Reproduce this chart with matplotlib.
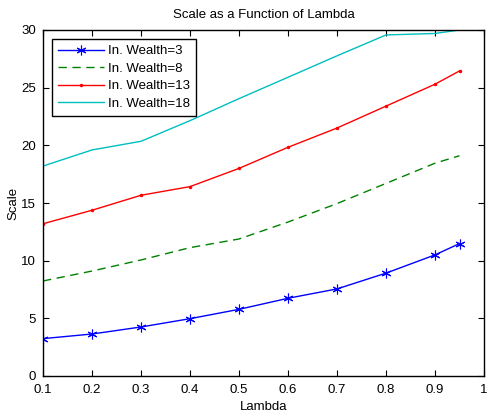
import matplotlib
matplotlib.use("Agg")
import matplotlib.pyplot as plt

plt.rcParams['font.family'] = ['Liberation Sans', 'DejaVu Sans']

lam = [0.1, 0.2, 0.3, 0.4, 0.5, 0.6, 0.7, 0.8, 0.9, 0.95]

wealth_3 = [3.24, 3.64, 4.25, 4.97, 5.78, 6.74, 7.55, 8.92, 10.5, 11.48]
wealth_8 = [8.24, 9.1, 10.06, 11.13, 11.88, 13.35, 14.95, 16.7, 18.45, 19.1]
wealth_13 = [13.2, 14.37, 15.67, 16.42, 18.0, 19.83, 21.5, 23.4, 25.3, 26.45]
wealth_18 = [18.2, 19.6, 20.35, 22.14, 24.05, 25.9, 27.76, 29.57, 29.7, 30.0]

labels = ['In. Wealth=3', 'In. Wealth=8', 'In. Wealth=13', 'In. Wealth=18']

fig = plt.figure(figsize=(4.88, 4.16), dpi=100)
ax = fig.add_axes([43 / 488, 40 / 416, 441 / 488, 346 / 416])

ax.plot(lam, wealth_3, color='#0000ff', linestyle='-', marker=(6, 2, 0),
        markersize=7, markeredgewidth=0.8, linewidth=1.0, label=labels[0])
ax.plot(lam, wealth_8, color='#008000', linestyle=(0, (6, 4)), linewidth=1.0,
        label=labels[1])
ax.plot(lam, wealth_13, color='#ff0000', linestyle='-', marker='.',
        markersize=3, linewidth=1.0, label=labels[2])
ax.plot(lam, wealth_18, color='#00bfbf', linestyle='-', linewidth=1.0,
        label=labels[3])

ax.set_xlim(0.1, 1)
ax.set_ylim(0, 30)
ax.set_xticks([0.1, 0.2, 0.3, 0.4, 0.5, 0.6, 0.7, 0.8, 0.9, 1])
ax.set_xticklabels(['0.1', '0.2', '0.3', '0.4', '0.5', '0.6', '0.7', '0.8', '0.9', '1'])
ax.set_yticks([0, 5, 10, 15, 20, 25, 30])
ax.tick_params(direction='in', top=True, right=True, length=4, labelsize=9.5)
ax.tick_params(axis='x', pad=6)
ax.tick_params(axis='y', pad=5)
for s in ax.spines.values():
    s.set_linewidth(1.0)

ax.set_xlabel('Lambda', fontsize=9.5, labelpad=3)
ax.set_ylabel('Scale', fontsize=9.5, labelpad=1)
ax.set_title('Scale as a Function of Lambda', fontsize=9.5, pad=9)

leg = ax.legend(loc='upper left', fontsize=9.5, fancybox=False, framealpha=1,
                edgecolor='black', handlelength=3.5, borderpad=0.45,
                labelspacing=0.4, handletextpad=0.3, borderaxespad=0.7)
leg.get_frame().set_linewidth(1.0)

fig.savefig('out.png', dpi=100)
